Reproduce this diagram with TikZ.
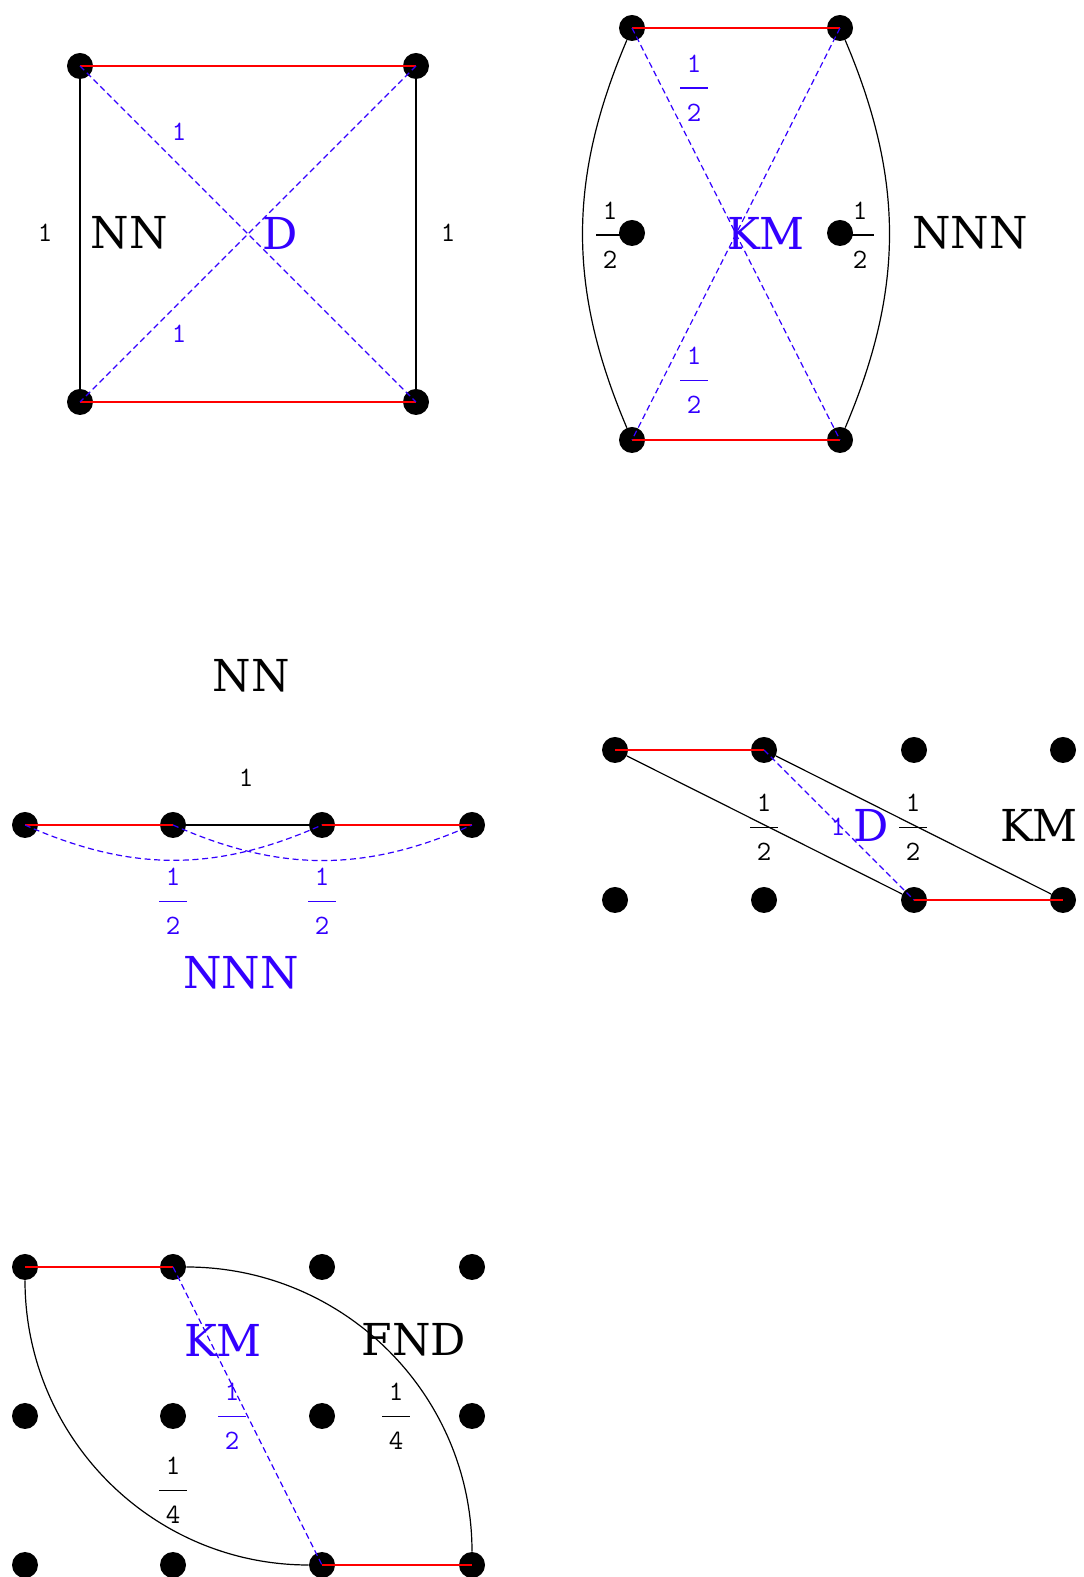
\documentclass[tikz,border=0pt]{standalone}
\usepackage{fontspec}
\usepackage{tikz}
\usetikzlibrary{positioning, calc}
\usepackage{xcolor}
\definecolor{hopblue}{HTML}{3300FF}
\definecolor{hopred}{HTML}{FF0000}
\newfontfamily\lblfont{DejaVu Serif}

\newcommand{\hopfrac}[2]{#1\\\rule[4pt]{14pt}{0.6pt}\\#2}

\begin{document}
\begin{tikzpicture}[
  x=0.5pt, y=0.5pt,
  site/.style={circle, fill=black, minimum size=13pt, inner sep=0pt},
  redbond/.style={draw=hopred, line width=0.6pt},
  blkbond/.style={draw=black, line width=0.6pt},
  bluebond/.style={draw=hopblue, line width=0.6pt, dash pattern=on 3pt off 1.8pt},
  biglbl/.style={font=\lblfont\fontsize{22}{27}\selectfont, inner sep=0pt},
  numlbl/.style={font=\ttfamily\fontsize{14}{12.3}\selectfont, align=center, inner sep=0pt}
]
  \useasboundingbox (0,0) rectangle (1083,1577);

  % square: NN and diagonal D
  \node[site] (sqa) at (80,1511) {};
  \node[site] (sqb) at (416,1511) {};
  \node[site] (sqc) at (80,1175) {};
  \node[site] (sqd) at (416,1175) {};
  \draw[blkbond] (sqa) -- (sqc);
  \draw[blkbond] (sqb) -- (sqd);
  \draw[redbond] (sqa.center) -- (sqb.center);
  \draw[redbond] (sqc.center) -- (sqd.center);
  \draw[bluebond] (sqa.center) -- (sqd.center);
  \draw[bluebond] (sqb.center) -- (sqc.center);
  \node[numlbl] (sqwl) at (45,1344) {1};
  \node[numlbl] (sqwr) at (448,1344) {1};
  \node[numlbl, text=hopblue] (sqwt) at (179,1445) {1};
  \node[numlbl, text=hopblue] (sqwb) at (179,1243) {1};
  \node[biglbl] (sqnn) at (129,1344) {NN};
  \node[biglbl, text=hopblue] (sqd0) at (280,1344) {D};

  % hexagon: NNN and KM
  \node[site] (hxa) at (632,1549) {};
  \node[site] (hxb) at (840,1549) {};
  \node[site] (hxc) at (632,1344) {};
  \node[site] (hxd) at (840,1344) {};
  \node[site] (hxe) at (632,1137) {};
  \node[site] (hxf) at (840,1137) {};
  \draw[blkbond] (hxa) to[bend right=23] (hxe);
  \draw[blkbond] (hxb) to[bend left=23] (hxf);
  \draw[redbond] (hxa.center) -- (hxb.center);
  \draw[redbond] (hxe.center) -- (hxf.center);
  \draw[bluebond] (hxa.center) -- (hxf.center);
  \draw[bluebond] (hxb.center) -- (hxe.center);
  \node[numlbl, text=hopblue] (hxwt) at (694,1489) {\hopfrac{1}{2}};
  \node[numlbl, text=hopblue] (hxwb) at (694,1197) {\hopfrac{1}{2}};
  \node[numlbl] (hxwl) at (610,1342) {\hopfrac{1}{2}};
  \node[numlbl] (hxwr) at (860,1342) {\hopfrac{1}{2}};
  \node[biglbl, text=hopblue] (hxkm) at (766,1344) {KM};
  \node[biglbl] (hxnnn) at (970,1344) {NNN};

  % chain
  \node[biglbl] (chnn) at (251,901) {NN};
  \node[site] (cha) at (25,752) {};
  \node[site] (chb) at (173,752) {};
  \node[site] (chc) at (322,752) {};
  \node[site] (chd) at (472,752) {};
  \draw[redbond] (cha.center) -- (chb.center);
  \draw[blkbond] (chb) -- (chc);
  \draw[redbond] (chc.center) -- (chd.center);
  \draw[bluebond] (cha.center) to[bend right=24] (chc.center);
  \draw[bluebond] (chb.center) to[bend right=24] (chd.center);
  \node[numlbl] (chw) at (246,799) {1};
  \node[numlbl, text=hopblue] (chwl) at (173,676) {\hopfrac{1}{2}};
  \node[numlbl, text=hopblue] (chwr) at (322,676) {\hopfrac{1}{2}};
  \node[biglbl, text=hopblue] (chnnn) at (241,604) {NNN};

  % ladder: KM and D
  \foreach \i/\x in {1/615, 2/764, 3/914, 4/1063} {
    \node[site] (lt\i) at (\x,827) {};
    \node[site] (lb\i) at (\x,677) {};
  }
  \draw[redbond] (lt1.center) -- (lt2.center);
  \draw[redbond] (lb3.center) -- (lb4.center);
  \draw[blkbond] (lt1) -- (lb3);
  \draw[blkbond] (lt2) -- (lb4);
  \draw[bluebond] (lt2.center) -- (lb3.center);
  \node[numlbl] (lwl) at (764,750) {\hopfrac{1}{2}};
  \node[numlbl] (lwr) at (913,750) {\hopfrac{1}{2}};
  \node[numlbl, text=hopblue] (lwd) at (838,750) {1};
  \node[biglbl, text=hopblue] (ld) at (871,752) {D};
  \node[biglbl] (lkm) at (1039,752) {KM};

  % grid: KM and FND
  \foreach \i/\x in {1/25, 2/173, 3/322, 4/472} {
    \node[site] (gt\i) at (\x,310) {};
    \node[site] (gm\i) at (\x,161) {};
    \node[site] (gb\i) at (\x,12) {};
  }
  \draw[redbond] (gt1.center) -- (gt2.center);
  \draw[redbond] (gb3.center) -- (gb4.center);
  \draw[blkbond] (gt1) to[out=-90, in=180] (gb3);
  \draw[blkbond] (gt2) to[out=0, in=90] (gb4);
  \draw[bluebond] (gt2.center) -- (gb3.center);
  \node[biglbl, text=hopblue] (gkm) at (223,237) {KM};
  \node[biglbl] (gfnd) at (414,237) {FND};
  \node[numlbl, text=hopblue] (gwkm) at (232,161) {\hopfrac{1}{2}};
  \node[numlbl] (gwr) at (396,161) {\hopfrac{1}{4}};
  \node[numlbl] (gwl) at (173,87) {\hopfrac{1}{4}};
\end{tikzpicture}
\end{document}
